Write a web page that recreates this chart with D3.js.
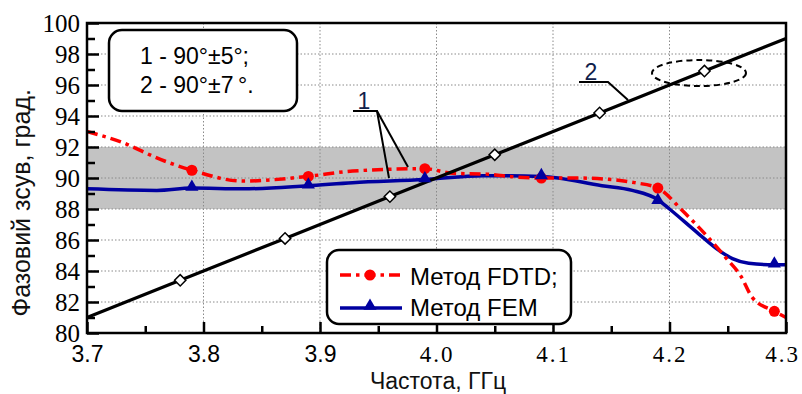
<!DOCTYPE html>
<html>
<head>
<meta charset="utf-8">
<script src="https://cdn.jsdelivr.net/npm/d3@7/dist/d3.min.js"></script>
<style>
  body { margin: 0; background: #fff; }
  svg { display: block; }
  .serif { font-family: "Liberation Serif", Tinos, "Times New Roman", "DejaVu Serif", serif; }
  .sans { font-family: "Liberation Sans", Arimo, Arial, sans-serif; }
  .narrow { font-family: "Liberation Sans Narrow", "Arial Narrow", "Liberation Sans", sans-serif; }
</style>
</head>
<body>
<svg id="chart" width="802" height="394"></svg>
<script>
// Axis ticks
const freqTicks = [3.7, 3.8, 3.9, 4.0, 4.1, 4.2, 4.3];
const freqMinorTicks = [3.75, 3.85, 3.95, 4.05, 4.15, 4.25];
const phaseTicks = [80, 82, 84, 86, 88, 90, 92, 94, 96, 98, 100];
const phaseMinorTicks = [81, 83, 85, 87, 89, 91, 93, 95, 97, 99];
const freqGrid = [3.8, 3.9, 4.0, 4.1, 4.2];
const phaseGrid = [82, 84, 86, 88, 90, 92, 94, 96, 98];

// Tolerance band 90° ± 2°
const bandLow = 88;
const bandHigh = 92;

// Method FDTD (curve 1, red)
const fdtdFreq  = [3.70, 3.73, 3.763, 3.79, 3.834, 3.889, 3.928, 3.99, 4.014, 4.043, 4.07, 4.09, 4.12, 4.15, 4.17, 4.19, 4.211, 4.234, 4.249, 4.261, 4.271, 4.29, 4.30];
const fdtdPhase = [93.0, 92.3, 91.2, 90.5, 89.8, 90.1, 90.45, 90.6, 90.3, 90.25, 90.05, 90.0, 90.0, 89.9, 89.7, 89.35, 87.9, 86.1, 84.8, 83.7, 82.3, 81.4, 81.0];
const fdtdMarkFreq  = [3.79, 3.89, 3.99, 4.09, 4.19, 4.29];
const fdtdMarkPhase = [90.5, 90.1, 90.6, 90.0, 89.35, 81.4];

// Method FEM (curve 1, blue)
const femFreq  = [3.70, 3.76, 3.79, 3.834, 3.889, 3.928, 3.99, 4.04, 4.09, 4.142, 4.168, 4.19, 4.20, 4.225, 4.243, 4.254, 4.268, 4.29, 4.30];
const femPhase = [89.3, 89.2, 89.35, 89.3, 89.5, 89.7, 89.9, 90.15, 90.1, 89.5, 89.2, 88.6, 88.0, 86.4, 85.3, 84.8, 84.5, 84.4, 84.4];
const femMarkFreq  = [3.79, 3.89, 3.99, 4.09, 4.19, 4.29];
const femMarkPhase = [89.35, 89.5, 89.9, 90.1, 88.5, 84.4];

// Curve 2 (black)
const lineFreq  = [3.70, 3.78, 3.87, 3.96, 4.05, 4.14, 4.23, 4.30];
const linePhase = [81.0, 83.4, 86.1, 88.8, 91.5, 94.2, 96.9, 99.0];
const lineMarkFreq  = [3.78, 3.87, 3.96, 4.05, 4.14, 4.23];
const lineMarkPhase = [83.4, 86.1, 88.8, 91.5, 94.2, 96.9];

// Text
const yTitle = "Фазовий зсув, град.";
const xTitle = "Частота, ГГц";
const noteLines = ["1 - 90°±5°;", "2 - 90°±7\u2009°."];
const legendLabels = ["Метод FDTD;", "Метод FEM"];

const svg = d3.select("#chart");
const plotLeft = 87, plotRight = 786, plotTop = 23, plotBottom = 333;

const x = d3.scaleLinear().domain([3.7, 4.3]).range([plotLeft, plotRight]);
const y = d3.scaleLinear().domain([80, 100]).range([plotBottom, plotTop]);

svg.append("rect").attr("width", 802).attr("height", 394).attr("fill", "#fff");

// Band
svg.append("rect")
  .attr("x", plotLeft).attr("width", plotRight - plotLeft)
  .attr("y", y(bandHigh)).attr("height", y(bandLow) - y(bandHigh))
  .attr("fill", "#c3c3c3");

// Dotted grid
const grid = svg.append("g").attr("stroke", "#8a8a8a").attr("stroke-width", 1).attr("stroke-dasharray", "1.5,2");
grid.selectAll("line.v").data(freqGrid).join("line").attr("class", "v")
  .attr("x1", d => x(d)).attr("x2", d => x(d)).attr("y1", plotTop).attr("y2", plotBottom);
grid.selectAll("line.h").data(phaseGrid).join("line").attr("class", "h")
  .attr("y1", d => y(d)).attr("y2", d => y(d)).attr("x1", plotLeft).attr("x2", plotRight);

// Curves
const zipPts = (fx, fy) => fx.map((f, i) => [f, fy[i]]);
const curve = d3.line().x(d => x(d[0])).y(d => y(d[1])).curve(d3.curveMonotoneX);

svg.append("path").datum(zipPts(femFreq, femPhase))
  .attr("d", curve).attr("fill", "none").attr("stroke", "#0000a0").attr("stroke-width", 3.5);

svg.append("path").datum(zipPts(fdtdFreq, fdtdPhase))
  .attr("d", curve).attr("fill", "none").attr("stroke", "#ff0000").attr("stroke-width", 3.5)
  .attr("stroke-dasharray", "11,5,3.5,5");

svg.append("path").datum(zipPts(lineFreq, linePhase))
  .attr("d", d3.line().x(d => x(d[0])).y(d => y(d[1])))
  .attr("fill", "none").attr("stroke", "#000").attr("stroke-width", 3.2);

// Markers
svg.append("g").selectAll("circle").data(zipPts(fdtdMarkFreq, fdtdMarkPhase)).join("circle")
  .attr("cx", d => x(d[0])).attr("cy", d => y(d[1])).attr("r", 5.5).attr("fill", "#ff0000");

const tri = d3.symbol().type(d3.symbolTriangle).size(75);
svg.append("g").selectAll("path").data(zipPts(femMarkFreq, femMarkPhase)).join("path")
  .attr("transform", d => `translate(${x(d[0])},${y(d[1]) - 1})`).attr("d", tri).attr("fill", "#0000a0");

svg.append("g").selectAll("path").data(zipPts(lineMarkFreq, lineMarkPhase)).join("path")
  .attr("transform", d => `translate(${x(d[0])},${y(d[1])}) rotate(45)`)
  .attr("d", d3.symbol().type(d3.symbolSquare).size(64))
  .attr("fill", "#fff").attr("stroke", "#000").attr("stroke-width", 1.5);

// Axes (ticks point inward)
const yAxis = d3.axisLeft(y).tickValues(phaseTicks).tickSize(-12).tickPadding(7).tickFormat(d3.format("d"));
const gy = svg.append("g").attr("transform", `translate(${plotLeft},0)`).call(yAxis)
  .attr("font-family", null).attr("font-size", null);
gy.select(".domain").remove();
gy.selectAll(".tick line").attr("stroke", "#000").attr("stroke-width", 2.5);
gy.selectAll(".tick text").attr("class", "serif").style("font-size", "25px").attr("fill", "#000");

const yMinor = d3.axisLeft(y).tickValues(phaseMinorTicks).tickSize(-8).tickFormat("");
const gym = svg.append("g").attr("transform", `translate(${plotLeft},0)`).call(yMinor);
gym.select(".domain").remove();
gym.selectAll(".tick line").attr("stroke", "#000").attr("stroke-width", 2.5);

const xAxis = d3.axisBottom(x).tickValues(freqTicks).tickSize(-11).tickPadding(13).tickFormat(d3.format(".1f"));
const gx = svg.append("g").attr("transform", `translate(0,${plotBottom})`).call(xAxis)
  .attr("font-family", null).attr("font-size", null);
gx.select(".domain").remove();
gx.selectAll(".tick line").attr("stroke", "#000").attr("stroke-width", 2.5);
gx.selectAll(".tick text")
  .attr("class", d => d < 3.95 ? "sans" : "serif")
  .style("letter-spacing", d => d < 3.95 ? "0px" : "2px")
  .attr("dx", d => d > 4.25 ? -4 : 0)
  .style("font-size", "23px").attr("fill", "#000");

const xMinor = d3.axisBottom(x).tickValues(freqMinorTicks).tickSize(-7).tickFormat("");
const gxm = svg.append("g").attr("transform", `translate(0,${plotBottom})`).call(xMinor);
gxm.select(".domain").remove();
gxm.selectAll(".tick line").attr("stroke", "#000").attr("stroke-width", 2.5);

// Frame
svg.append("rect").attr("x", plotLeft).attr("y", plotTop).attr("width", plotRight - plotLeft).attr("height", plotBottom - plotTop)
  .attr("fill", "none").attr("stroke", "#000").attr("stroke-width", 2.5);

// Titles
svg.append("text").attr("class", "narrow").attr("transform", `translate(30,203) rotate(-90)`)
  .attr("text-anchor", "middle").style("font-size", "25px").attr("fill", "#111")
  .text(yTitle);
svg.append("text").attr("class", "narrow").attr("x", 438).attr("y", 389)
  .attr("text-anchor", "middle").style("font-size", "23px").attr("fill", "#111")
  .text(xTitle);

// Tolerance note box
svg.append("rect").attr("x", 109).attr("y", 30).attr("width", 188).attr("height", 81).attr("rx", 13)
  .attr("fill", "#fff").attr("stroke", "#000").attr("stroke-width", 2.5);
svg.append("g").selectAll("text").data(noteLines).join("text").attr("class", "sans")
  .attr("x", 140).attr("y", (d, i) => 64 + i * 29)
  .style("font-size", "23px").attr("fill", "#000")
  .text(d => d);

// Callout "1"
const callout = svg.append("g").attr("stroke", "#000").attr("stroke-width", 2).attr("fill", "none");
callout.append("polyline").attr("points", "353,111 377,111 389,178");
callout.append("line").attr("x1", 377).attr("y1", 111).attr("x2", 408).attr("y2", 167);
svg.append("text").attr("class", "sans").attr("x", 364).attr("y", 109).attr("text-anchor", "middle")
  .style("font-size", "23px").attr("fill", "#10204a").text("1");

// Callout "2"
callout.append("polyline").attr("points", "579,82 608,82 628,100");
svg.append("text").attr("class", "sans").attr("x", 591).attr("y", 80).attr("text-anchor", "middle")
  .style("font-size", "23px").attr("fill", "#10204a").text("2");
svg.append("ellipse").attr("cx", 699).attr("cy", 73).attr("rx", 47).attr("ry", 13)
  .attr("fill", "none").attr("stroke", "#000").attr("stroke-width", 2).attr("stroke-dasharray", "6,4");

// Legend
const lg = svg.append("g");
lg.append("rect").attr("x", 327).attr("y", 250).attr("width", 244).attr("height", 74).attr("rx", 12)
  .attr("fill", "#fff").attr("stroke", "#000").attr("stroke-width", 2.5);
lg.append("line").attr("x1", 340).attr("x2", 402).attr("y1", 275).attr("y2", 275)
  .attr("stroke", "#ff0000").attr("stroke-width", 3.5).attr("stroke-dasharray", "11,5,3.5,5");
lg.append("circle").attr("cx", 370).attr("cy", 275).attr("r", 5.5).attr("fill", "#ff0000");
lg.append("line").attr("x1", 340).attr("x2", 402).attr("y1", 308).attr("y2", 308)
  .attr("stroke", "#0000a0").attr("stroke-width", 3.5);
lg.append("path").attr("transform", "translate(370,306)").attr("d", tri).attr("fill", "#0000a0");
lg.selectAll("text").data(legendLabels).join("text").attr("class", "sans")
  .attr("x", 410).attr("y", (d, i) => 285 + i * 31)
  .style("font-size", "24px").attr("fill", "#000")
  .text(d => d);
</script>
</body>
</html>
